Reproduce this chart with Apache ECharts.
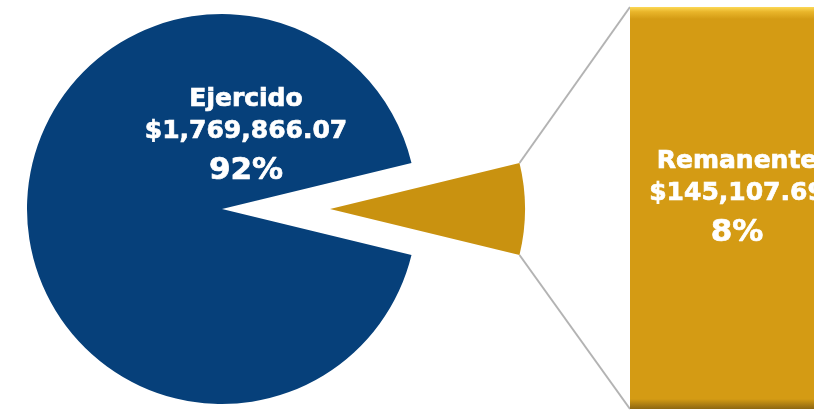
<!DOCTYPE html>
<html>
<head>
<meta charset="utf-8">
<script src="https://cdn.jsdelivr.net/npm/echarts@6/dist/echarts.min.js"></script>
<style>
html,body{margin:0;padding:0;background:#fff;}
#c{width:814px;height:411px;}
</style>
</head>
<body>
<div id="c"></div>
<script>
// ---- data ----
const categories = ['Ejercido', 'Remanente'];
const values = [1769866.07, 145107.69];
const barCategories = ['Remanente'];
const barValues = [145107.69];

// ---- helpers ----
const total = values.reduce((a, b) => a + b, 0);
const fmtMoney = v => '$' + v.toLocaleString('en-US', {minimumFractionDigits: 2, maximumFractionDigits: 2});
const fmtPct = v => Math.round(v / total * 100) + '%';

const FONT = '"DejaVu Sans", Verdana, sans-serif';
const BLUE = '#06407A';
const GOLD_PIE = '#C99210';
const GOLD_BAR = '#D49B14';

const CX = 222, CY = 209, R = 195, OFFSET = 108;
const BAR_LEFT = 630, BAR_WIDTH = 214;
const remShare = values[1] / total;
const halfAngle = remShare * 360 / 2;

const txt = (size, lh) => ({color: '#fff', fontFamily: FONT, fontWeight: 'bold', fontSize: size, lineHeight: lh,
  align: 'center', textBorderColor: '#fff', textBorderWidth: 0.7});
const rich = {n: txt(25, 32), v: txt(25, 32), p: txt(31, 47)};
const labelText = (name, v) => '{n|' + name + '}\n{v|' + fmtMoney(v) + '}\n{p|' + fmtPct(v) + '}';

const chart = echarts.init(document.getElementById('c'), null, {renderer: 'canvas'});

const option = {
  animation: false,
  backgroundColor: '#ffffff',
  grid: {left: BAR_LEFT, top: 7, width: BAR_WIDTH, height: 402},
  xAxis: {type: 'category', data: barCategories, show: false},
  yAxis: {type: 'value', min: 0, max: barValues[0], show: false},
  series: [
    {
      type: 'pie',
      center: [CX, CY],
      radius: R,
      startAngle: 360 - halfAngle,
      clockwise: true,
      selectedMode: 'single',
      selectedOffset: OFFSET,
      avoidLabelOverlap: false,
      emphasis: {disabled: true},
      labelLine: {show: false},
      label: {
        show: true,
        position: 'inside',
        formatter: p => labelText(p.name, p.value),
        rich: rich
      },
      labelLayout: function (params) {
        if (params.dataIndex === 0) {
          return {x: CX + 24, y: CY - 70, align: 'center', verticalAlign: 'middle'};
        }
        return {};
      },
      data: [
        {name: categories[0], value: values[0], itemStyle: {color: BLUE}},
        {name: categories[1], value: values[1], selected: true,
         itemStyle: {color: GOLD_PIE}, select: {itemStyle: {color: GOLD_PIE}},
         label: {show: false}}
      ]
    },
    {
      type: 'bar',
      barWidth: '100%',
      emphasis: {disabled: true},
      itemStyle: {
        color: {
          type: 'linear', x: 0, y: 0, x2: 0, y2: 1,
          colorStops: [
            {offset: 0, color: '#FCD956'},
            {offset: 0.012, color: '#E9B52A'},
            {offset: 0.03, color: GOLD_BAR},
            {offset: 0.975, color: GOLD_BAR},
            {offset: 0.99, color: '#A97B12'},
            {offset: 1, color: '#8E6710'}
          ]
        }
      },
      label: {
        show: true,
        position: 'inside',
        formatter: p => labelText(p.name, p.value),
        rich: rich
      },
      labelLayout: function () {
        return {x: BAR_LEFT + BAR_WIDTH / 2, y: 201, align: 'center', verticalAlign: 'middle'};
      },
      data: barValues
    }
  ]
};
chart.setOption(option);

// connector lines from the exploded slice's outer corners to the bar's left corners
const rect = chart.getModel().getComponent('grid').coordinateSystem.getRect();
const ax = CX + OFFSET, ay = CY;
const rad = halfAngle * Math.PI / 180;
const topCorner = [ax + R * Math.cos(rad), ay - R * Math.sin(rad)];
const botCorner = [ax + R * Math.cos(rad), ay + R * Math.sin(rad)];
chart.setOption({
  graphic: [
    {type: 'line', z: -1, shape: {x1: topCorner[0], y1: topCorner[1], x2: rect.x, y2: rect.y},
     style: {stroke: '#B3B3B3', lineWidth: 2}},
    {type: 'line', z: -1, shape: {x1: botCorner[0], y1: botCorner[1], x2: rect.x, y2: rect.y + rect.height},
     style: {stroke: '#B3B3B3', lineWidth: 2}}
  ]
});
</script>
</body>
</html>
